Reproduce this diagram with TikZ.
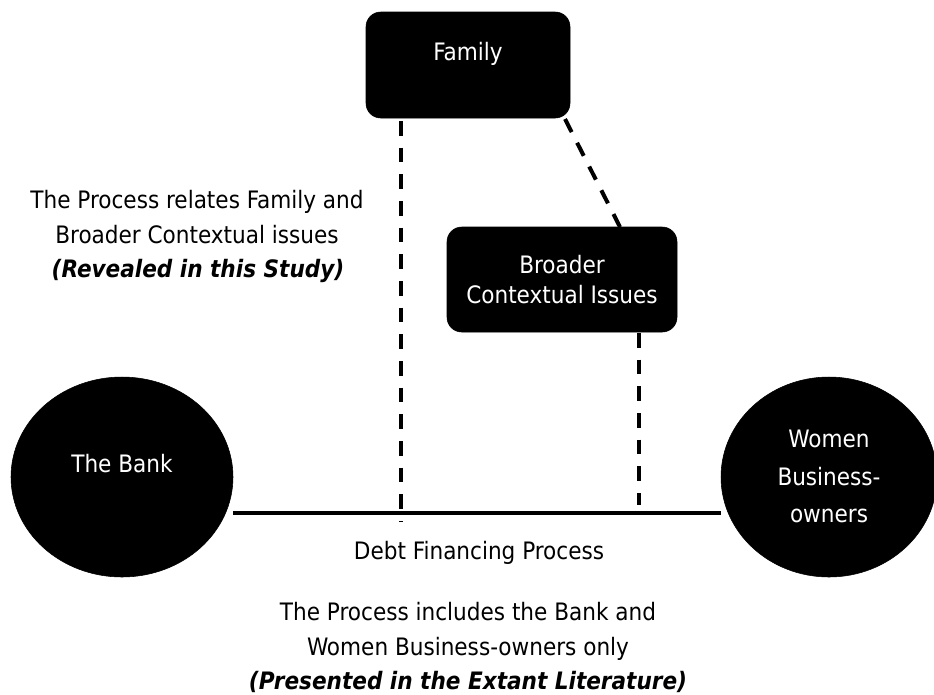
\documentclass[tikz,border=0pt]{standalone}
\usepackage{fontspec}
\setmainfont{DejaVu Sans Condensed}
\usetikzlibrary{shapes.geometric}
\begin{document}
\begin{tikzpicture}[x=0.75pt,y=-0.75pt,
  boxnode/.style={fill=black,draw=black,rounded corners=11pt,inner sep=0pt},
  circnode/.style={ellipse,fill=black,draw=black,inner sep=0pt},
  wtxt/.style={text=white,anchor=base,inner sep=0pt,font=\fontsize{18}{26}\selectfont},
  dashline/.style={line width=3pt,dash pattern=on 11pt off 9pt},
  solidline/.style={line width=2.8pt},
  lbl/.style={anchor=base,inner sep=0pt,font=\fontsize{18}{26}\selectfont},
  blbl/.style={anchor=base,inner sep=0pt,font=\fontsize{18}{26}\selectfont\bfseries\itshape}]
\useasboundingbox (0,0) rectangle (934,694);
\node[boxnode,minimum width=204*0.75pt,minimum height=106*0.75pt] (family) at (468,65) {};
\node[wtxt] (familyt) at (468,60) {Family};
\node[boxnode,minimum width=230*0.75pt,minimum height=105*0.75pt] (broader) at (562,279.5) {};
\node[wtxt] (broadert1) at (562,273) {Broader};
\node[wtxt] (broadert2) at (562,303) {Contextual Issues};
\node[circnode,minimum width=222*0.75pt,minimum height=200*0.75pt] (bank) at (122,477) {};
\node[wtxt] (bankt) at (122,472) {The Bank};
\node[circnode,minimum width=216*0.75pt,minimum height=200*0.75pt] (women) at (829,477) {};
\node[wtxt] (women1) at (829,447) {Women};
\node[wtxt] (women2) at (829,485) {Business-};
\node[wtxt] (women3) at (829,522) {owners};
\coordinate (d1top) at (401,121);
\coordinate (d1bot) at (401,522);
\coordinate (d2top) at (639,333);
\coordinate (d2bot) at (639,505);
\coordinate (diagtop) at (565,119);
\coordinate (diagbot) at (620,227);
\draw[solidline] (bank.east |- 0,513) -- (women.west |- 0,513);
\draw[dashline] (d1top) -- (d1bot);
\draw[dashline] (d2top) -- (d2bot);
\draw[dashline] (diagtop) -- (diagbot);
\node[lbl] (rel1) at (197,208) {The Process relates Family and};
\node[lbl] (rel2) at (197,243) {Broader Contextual issues};
\node[blbl] (rev) at (198,277) {(Revealed in this Study)};
\node[lbl] (debt) at (479,559) {Debt Financing Process};
\node[lbl] (inc1) at (468,620) {The Process includes the Bank and};
\node[lbl] (inc2) at (468,655) {Women Business-owners only};
\node[blbl] (pres) at (468,689) {(Presented in the Extant Literature)};
\end{tikzpicture}
\end{document}
